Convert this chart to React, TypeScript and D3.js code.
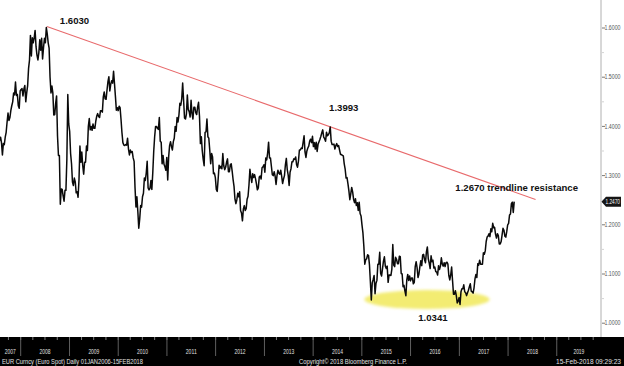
import React from 'react';
import * as d3 from 'd3';

// ---------- DATA (weekly closes, EUR/USD) ----------
const p2007 = [1.3710,1.3780,1.3670,1.3420,1.3650,1.3630,1.3780,1.3880,1.4090,1.4270,1.4120,1.4180,1.4320,1.4420,1.4500,1.4680,1.4640,1.4900,1.4630,1.4650,1.4420,1.4370,1.4720];
const p2008 = [1.4750,1.4770,1.4620,1.4760, 1.4830,1.4500,1.4680,1.4830,1.5180, 1.5350,1.5850,1.5430,1.5800, 1.5700,1.5800,1.5950,1.5620, 1.5450,1.5350,1.5500,1.5760,1.5550, 1.5790,1.5370,1.5600,1.5790, 1.5700,1.6010,1.5880,1.5700, 1.5590,1.5000,1.4680,1.4820,1.4680, 1.4230,1.4240,1.4470,1.4620, 1.3800,1.3410,1.3410,1.2420,1.2730, 1.2720,1.2590,1.2480,1.2700, 1.2700,1.3330,1.4650,1.4050];
const p2009 = [1.3900,1.3450,1.3240,1.2870,1.2800, 1.2950,1.2870,1.2650,1.2670, 1.2560,1.2920,1.3600,1.3270, 1.3480,1.3200,1.3030,1.3270, 1.3270,1.3600,1.3510,1.4000,1.4160, 1.3930,1.4000,1.3920,1.4050, 1.3960,1.3960,1.4110,1.4210,1.4260, 1.4200,1.4180,1.4320,1.4320, 1.4290,1.4600,1.4700,1.4560, 1.4550,1.4740,1.4910,1.5010,1.4720, 1.4860,1.4930,1.4880,1.5120, 1.4870,1.4610,1.4330,1.4380];
const p2010 = [1.4320,1.4410,1.4380,1.4140,1.3870, 1.3670,1.3620,1.3610,1.3630, 1.3620,1.3760,1.3540,1.3420, 1.3520,1.3470,1.3490,1.3360,1.3290, 1.2750,1.2360,1.2570,1.2270, 1.1930,1.2120,1.2390,1.2360, 1.2570,1.2640,1.2950,1.2900,1.3050, 1.3290,1.2750,1.2710,1.2740, 1.2900,1.2720,1.3060,1.3490, 1.3790,1.4000,1.4000,1.3960,1.3940, 1.4180,1.3700,1.3680,1.3240, 1.3410,1.3230,1.3180,1.3110,1.3370];
const p2011 = [1.2910,1.3380,1.3610,1.3690, 1.3590,1.3520,1.3690,1.3760, 1.4000,1.3900,1.4180,1.4090, 1.4230,1.4470,1.4430,1.4560,1.4880, 1.4530,1.4170,1.4150,1.4250, 1.4640,1.4340,1.4300,1.4190, 1.4530,1.4260,1.4150,1.4390,1.4390, 1.4280,1.4240,1.4390,1.4490, 1.4210,1.3650,1.3790,1.3500,1.3330, 1.3200,1.3880,1.3890,1.4150, 1.3790,1.3760,1.3520,1.3240, 1.3450,1.3380,1.3040,1.3050,1.2960];
const p2012 = [1.2720,1.2680,1.2930,1.3210, 1.3150,1.3190,1.3140,1.3450, 1.3200,1.3120,1.3170,1.3270,1.3340, 1.3080,1.3080,1.3220,1.3240, 1.3090,1.2920,1.2780,1.2520, 1.2430,1.2510,1.2640,1.2570,1.2670, 1.2290,1.2240,1.2080,1.2320, 1.2390,1.2290,1.2330,1.2520,1.2580, 1.2810,1.3130,1.2980,1.2860, 1.3040,1.2960,1.3020,1.2940, 1.2830,1.2710,1.2750,1.2970,1.2990, 1.2930,1.3160,1.3180,1.3220];
const p2013 = [1.3070,1.3360,1.3320,1.3460, 1.3680,1.3360,1.3360,1.3190, 1.3020,1.3000,1.3080,1.2990,1.2820, 1.3000,1.3110,1.3050,1.3030, 1.3110,1.2990,1.2840,1.2930,1.3000, 1.3220,1.3350,1.3120,1.3010, 1.2800,1.3070,1.3140,1.3280, 1.3280,1.3340,1.3330,1.3380,1.3220, 1.3170,1.3300,1.3520,1.3520, 1.3560,1.3550,1.3680,1.3810, 1.3480,1.3370,1.3500,1.3560,1.3600, 1.3700,1.3740,1.3670,1.3800];
const p2014 = [1.3590,1.3670,1.3540,1.3680,1.3490, 1.3640,1.3690,1.3740,1.3800, 1.3870,1.3930,1.3780,1.3750, 1.3700,1.3880,1.3810,1.3830, 1.3870,1.3990,1.3700,1.3630,1.3630, 1.3640,1.3540,1.3610,1.3650, 1.3590,1.3610,1.3520,1.3430, 1.3430,1.3410,1.3400,1.3240,1.3130, 1.2950,1.2960,1.2830,1.2690, 1.2510,1.2630,1.2760,1.2670,1.2520, 1.2450,1.2530,1.2390,1.2450, 1.2290,1.2460,1.2230,1.2180];
const p2015 = [1.2000,1.1840,1.1570,1.1200,1.1290, 1.1310,1.1390,1.1380,1.1190, 1.0840,1.0470,1.0820,1.0890, 1.0970,1.0600,1.0810,1.0870, 1.1200,1.1200,1.1440,1.1010,1.0960, 1.1110,1.1260,1.1350,1.1160, 1.1110,1.1160,1.0830,1.0980,1.0980, 1.0970,1.1100,1.1600,1.1180, 1.1150,1.1340,1.1300,1.1210, 1.1210,1.1360,1.1350,1.1010,1.1000, 1.0740,1.0770,1.0650,1.0560, 1.0880,1.0990,1.0870,1.0960];
const p2016 = [1.0860,1.0920,1.0920,1.0800,1.0830, 1.1150,1.1250,1.1130,1.0930, 1.1000,1.1150,1.1270,1.1170, 1.1390,1.1400,1.1290,1.1230,1.1450, 1.1550,1.1310,1.1220,1.1110, 1.1370,1.1250,1.1280,1.1120, 1.1140,1.1050,1.1040,1.0980,1.1170, 1.1090,1.1160,1.1330,1.1200, 1.1160,1.1230,1.1150,1.1230,1.1240, 1.1200,1.0970,1.0880,1.0980, 1.1140,1.0860,1.0590,1.0590, 1.0660,1.0560,1.0410,1.0450,1.0520];
const p2017 = [1.0380,1.0640,1.0700,1.0700, 1.0780,1.0640,1.0620,1.0560, 1.0620,1.0670,1.0740,1.0800,1.0650, 1.0640,1.0610,1.0720,1.0900, 1.0990,1.0930,1.1210,1.1180, 1.1280,1.1200,1.1200,1.1200,1.1430, 1.1400,1.1470,1.1660,1.1750, 1.1770,1.1820,1.1760,1.1920, 1.1860,1.2030,1.1940,1.1950,1.1810, 1.1730,1.1820,1.1780,1.1610, 1.1610,1.1660,1.1790,1.1930, 1.1890,1.1770,1.1750,1.1860,1.2000];
const p2018 = [1.2030,1.2200,1.2220,1.2430,1.2460,1.2250,1.2470];

// each block: first day of range, end of range, weekly (Friday) closes
const blocks: [Date, Date, number[]][] = [
  [new Date(2007, 6, 27), new Date(2008, 0, 1), p2007],
  [new Date(2008, 0, 1), new Date(2009, 0, 1), p2008],
  [new Date(2009, 0, 1), new Date(2010, 0, 1), p2009],
  [new Date(2010, 0, 1), new Date(2011, 0, 1), p2010],
  [new Date(2011, 0, 1), new Date(2012, 0, 1), p2011],
  [new Date(2012, 0, 1), new Date(2013, 0, 1), p2012],
  [new Date(2013, 0, 1), new Date(2014, 0, 1), p2013],
  [new Date(2014, 0, 1), new Date(2015, 0, 1), p2014],
  [new Date(2015, 0, 1), new Date(2016, 0, 1), p2015],
  [new Date(2016, 0, 1), new Date(2017, 0, 1), p2016],
  [new Date(2017, 0, 1), new Date(2018, 0, 1), p2017],
  [new Date(2018, 0, 1), new Date(2018, 1, 17), p2018],
];

const yearLabels = [2007, 2008, 2009, 2010, 2011, 2012, 2013, 2014, 2015, 2016, 2017, 2018, 2019];
const yTicks = [1.0, 1.1, 1.2, 1.3, 1.4, 1.5, 1.6];
const yMinor = [1.05, 1.15, 1.25, 1.35, 1.45, 1.55];
const lastValue = 1.2470;

const trendStart = { date: new Date(2008, 6, 15), value: 1.6030 };
const trendEnd = { date: new Date(2018, 6, 26), value: 1.2515 };

const peak2008 = { date: new Date(2008, 6, 15), value: 1.6030, label: '1.6030' };
const peak2014 = { date: new Date(2014, 4, 8), value: 1.3993, label: '1.3993' };
const low2017 = { date: new Date(2017, 0, 3), value: 1.0341, label: '1.0341' };
const resistanceLabel = { date: new Date(2017, 0, 1), value: 1.2670, label: '1.2670 trendline resistance' };
const supportZone = { from: new Date(2015, 0, 20), to: new Date(2017, 7, 15), center: 1.0482, half: 0.0193 };

const footerLeft = 'EUR Curncy (Euro Spot)  Daily 01JAN2006-15FEB2018';
const footerMid = 'Copyright\u00A9 2018 Bloomberg Finance L.P.';
const footerRight = '15-Feb-2018 09:29:23';

// ---------- CHART ----------
const W = 624, H = 366;
const AXIS_X = 601;
const BAND_Y = 337;

export default function App() {
  const x = d3.scaleTime()
    .domain([new Date(2008, 0, 1), new Date(2020, 0, 1)])
    .range([20.7, 20.7 + 12 * 48.73]);
  const y = d3.scaleLinear().domain([1.0, 1.6]).range([323.2, 28]);

  const points: { d: Date; v: number }[] = [];
  blocks.forEach(([s, e, vals]) => {
    const fridays = d3.timeFriday.range(s, e);
    vals.forEach((v, i) => {
      if (fridays[i]) points.push({ d: fridays[i], v });
    });
  });

  const line = d3.line<{ d: Date; v: number }>()
    .x(p => x(p.d))
    .y(p => y(p.v));

  const font = 'Liberation Sans, Arial, sans-serif';

  const zoneX0 = x(supportZone.from), zoneX1 = x(supportZone.to);
  const zoneY0 = y(supportZone.center + supportZone.half), zoneY1 = y(supportZone.center - supportZone.half);

  const yearStart = (yr: number) => x(new Date(yr, 0, 1));
  const quarters: Date[] = d3.timeMonth.every(3)!.range(new Date(2007, 6, 1), new Date(2020, 0, 1));

  const tagY = y(lastValue);

  return (
    <svg width={W} height={H} style={{ position: 'absolute', left: 0, top: 0, background: '#fff' }}>
      <defs>
        <filter id="soft" x="-20%" y="-50%" width="140%" height="200%">
          <feGaussianBlur stdDeviation="1.6" />
        </filter>
        <clipPath id="plot">
          <rect x={0} y={0} width={AXIS_X} height={BAND_Y} />
        </clipPath>
      </defs>

      {/* support zone ellipse */}
      <ellipse
        cx={(zoneX0 + zoneX1) / 2}
        cy={(zoneY0 + zoneY1) / 2}
        rx={(zoneX1 - zoneX0) / 2}
        ry={(zoneY1 - zoneY0) / 2}
        fill="#f3ec72"
        filter="url(#soft)"
      />

      {/* trendline */}
      <line
        x1={x(trendStart.date)} y1={y(trendStart.value)}
        x2={x(trendEnd.date)} y2={y(trendEnd.value)}
        stroke="#e86a6c" strokeWidth={1.1}
      />

      {/* price */}
      <g clipPath="url(#plot)">
        <path d={line(points) || ''} fill="none" stroke="#0a0a0a" strokeWidth={1.5} strokeLinejoin="round" />
      </g>

      {/* annotations */}
      <g fontFamily={font} fontWeight="bold" fontSize={9.6} fill="#111">
        <text x={x(peak2008.date) + 13} y={y(peak2008.value) - 2.5}>{peak2008.label}</text>
        <text x={x(peak2014.date) - 1} y={y(peak2014.value) - 16}>{peak2014.label}</text>
        <text x={x(resistanceLabel.date) - 4} y={y(resistanceLabel.value) - 1}>{resistanceLabel.label}</text>
        <text x={(zoneX0 + zoneX1) / 2 + 6} y={zoneY1 + 12} textAnchor="middle">{low2017.label}</text>
      </g>

      {/* right axis */}
      <line x1={AXIS_X} y1={0} x2={AXIS_X} y2={BAND_Y} stroke="#b0b0b0" strokeWidth={1} />
      {yMinor.map(v => (
        <line key={'m' + v} x1={AXIS_X + 1} x2={AXIS_X + 3} y1={y(v)} y2={y(v)} stroke="#c8c8c8" strokeWidth={0.8} />
      ))}
      {yTicks.map(v => (
        <g key={'t' + v}>
          <line x1={AXIS_X + 1} x2={AXIS_X + 4} y1={y(v)} y2={y(v)} stroke="#555" strokeWidth={0.8} />
          <text x={604.5} y={y(v)} dy="0.35em" fontFamily={font} fontSize={6.5} fill="#555"
            textLength={16} lengthAdjust="spacingAndGlyphs">{v.toFixed(4)}</text>
        </g>
      ))}
      {/* last value tag */}
      <path d={`M${AXIS_X + 0.5},${tagY} L${AXIS_X + 5},${tagY - 5} L${W - 3},${tagY - 5} L${W - 3},${tagY + 5} L${AXIS_X + 5},${tagY + 5} Z`} fill="#151515" />
      <text x={605.5} y={tagY} dy="0.35em" fontFamily={font} fontSize={6.5} fill="#fff"
        textLength={14.5} lengthAdjust="spacingAndGlyphs">{lastValue.toFixed(4)}</text>

      {/* bottom band */}
      <rect x={0} y={BAND_Y} width={W} height={H - BAND_Y} fill="#000" />
      {quarters.map((q, i) => (
        <line key={'q' + i} x1={x(q)} x2={x(q)} y1={BAND_Y} y2={BAND_Y + 3} stroke="#9a9a9a" strokeWidth={0.8} />
      ))}
      {yearLabels.map(yr => {
        const s = Math.max(0, yearStart(yr));
        const e = Math.min(AXIS_X, yearStart(yr + 1));
        return (
          <g key={'y' + yr}>
            {yr > 2007 && (
              <line x1={yearStart(yr)} x2={yearStart(yr)} y1={BAND_Y} y2={BAND_Y + 19} stroke="#6a6a6a" strokeWidth={0.9} />
            )}
            <text x={(s + e) / 2} y={354} textAnchor="middle" fontFamily={font} fontSize={7} fill="#e0e0e0"
              textLength={11} lengthAdjust="spacingAndGlyphs">{yr}</text>
          </g>
        );
      })}
      <g fontFamily={font} fontSize={6.5} fill="#e0e0e0">
        <text x={2} y={363.5} textLength={141} lengthAdjust="spacingAndGlyphs">{footerLeft}</text>
        <text x={299} y={363.5} textLength={108} lengthAdjust="spacingAndGlyphs">{footerMid}</text>
        <text x={621} y={363.5} textAnchor="end" textLength={65} lengthAdjust="spacingAndGlyphs">{footerRight}</text>
      </g>
    </svg>
  );
}
